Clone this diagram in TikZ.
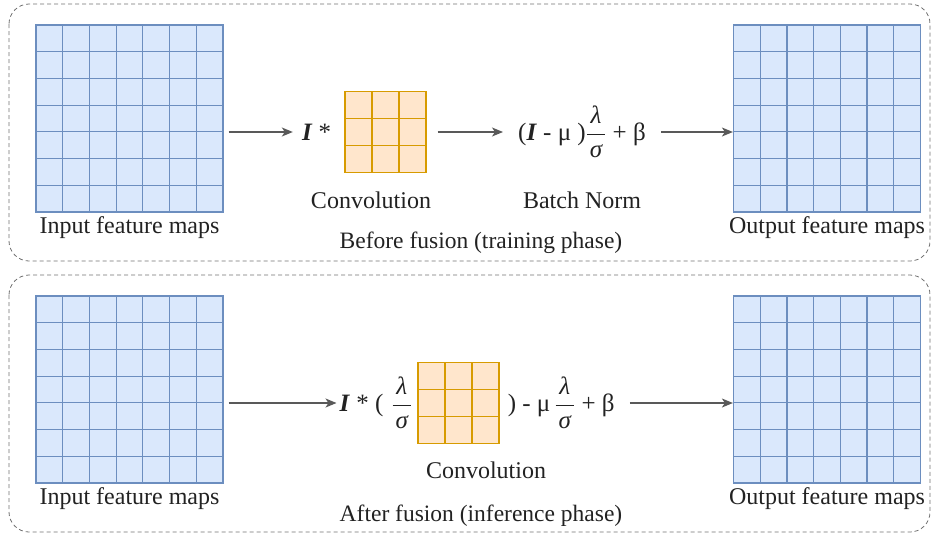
\documentclass[tikz,border=0pt]{standalone}
\usepackage{fontspec}
\setmainfont{Liberation Serif}
\usetikzlibrary{arrows.meta, positioning}

\definecolor{mapfill}{HTML}{DAE8FC}
\definecolor{mapline}{HTML}{6C8EBF}
\definecolor{kernfill}{HTML}{FFE6CC}
\definecolor{kernline}{HTML}{D79B00}
\definecolor{flowgray}{HTML}{595959}
\definecolor{inkgray}{HTML}{222222}
\definecolor{panelgray}{HTML}{707070}

\newcommand{\lamsig}{\ensuremath{\displaystyle\frac{\mbox{\hspace{3pt}\itshape λ\hspace{3pt}}}{\mbox{\hspace{3pt}\itshape σ\hspace{3pt}}}}}
\newcommand{\bI}{\textbf{\textit{I}}}

\tikzset{
  fmap/.style={draw=mapline, fill=mapfill, line width=1.2pt, inner sep=0pt,
    minimum width=187pt, minimum height=187pt,
    path picture={\foreach \k in {1,...,6}{
      \draw[mapline, line width=1.2pt] ([xshift=\k*26.714pt]path picture bounding box.north west) -- ([xshift=\k*26.714pt]path picture bounding box.south west);
      \draw[mapline, line width=1.2pt] ([yshift=-\k*26.714pt]path picture bounding box.north west) -- ([yshift=-\k*26.714pt]path picture bounding box.north east);}}},
  kern/.style={draw=kernline, fill=kernfill, line width=1.2pt, inner sep=0pt,
    minimum width=81pt, minimum height=81pt,
    path picture={\foreach \k in {1,2}{
      \draw[kernline, line width=1.2pt] ([xshift=\k*27pt]path picture bounding box.north west) -- ([xshift=\k*27pt]path picture bounding box.south west);
      \draw[kernline, line width=1.2pt] ([yshift=-\k*27pt]path picture bounding box.north west) -- ([yshift=-\k*27pt]path picture bounding box.north east);}}},
  lbl/.style={text=inkgray, inner sep=0pt, font=\fontsize{24}{28}\selectfont},
  eqn/.style={text=inkgray, inner sep=0pt, font=\fontsize{25}{30}\selectfont},
  phasecap/.style={text=inkgray, inner sep=0pt, font=\fontsize{23.5}{28}\selectfont},
  flow/.style={draw=flowgray, line width=1.3pt, -{Stealth[length=11pt, width=9pt, inset=3pt]}},
  panel/.style={draw=panelgray, line width=0.8pt, dash pattern=on 4pt off 3pt, rounded corners=20pt}
}

\begin{document}
\begin{tikzpicture}[x=1pt, y=-1pt]
\useasboundingbox (0,0) rectangle (931,536);

% panels
\draw[panel] (9,4) rectangle (930,261);
\draw[panel] (9,275) rectangle (930,532);

% before fusion
\node[fmap] (inTop) at (129.5,118.5) {};
\node[fmap] (outTop) at (827,118.5) {};
\node[lbl, below=4pt of inTop] (inTopLbl) {Input feature maps};
\node[lbl, below=4pt of outTop] (outTopLbl) {Output feature maps};
\node[kern] (kernTop) at (385.5,132) {};
\node[eqn, left=13pt of kernTop] (starTop) {\bI{} *};
\node[lbl] (convTop) at (371,200) {Convolution};
\node[eqn] (bnTop) at (582,132) {(\bI{} - μ )\lamsig{} + β};
\node[lbl] (bnLbl) at (bnTop |- convTop) {Batch Norm};
\node[phasecap] (capTop) at (481,243) {Before fusion (training phase)};

\draw[flow, shorten <=5pt, shorten >=9pt] (inTop.east |- starTop) -- (starTop);
\draw[flow, shorten <=11pt, shorten >=15pt] (kernTop) -- (bnTop);
\draw[flow, shorten <=15pt] (bnTop) -- (outTop.west |- bnTop);

% after fusion
\node[fmap] (inBot) at (129.5,389.5) {};
\node[fmap] (outBot) at (827,389.5) {};
\node[lbl, below=4pt of inBot] (inBotLbl) {Input feature maps};
\node[lbl, below=4pt of outBot] (outBotLbl) {Output feature maps};
\node[kern] (kernBot) at (458.5,403) {};
\node[eqn, left=5pt of kernBot] (preBot) {\bI{} * (\hspace{8pt}\lamsig};
\node[eqn, right=8pt of kernBot] (postBot) {) - μ\,\lamsig{} + β};
\node[lbl] (convBot) at (486,470) {Convolution};
\node[phasecap] (capBot) at (481,516) {After fusion (inference phase)};

\draw[flow, shorten <=5pt, shorten >=3pt] (inBot.east |- kernBot) -- (preBot.west |- kernBot);
\draw[flow, shorten <=15pt] (postBot.east |- kernBot) -- (outBot.west |- kernBot);
\end{tikzpicture}
\end{document}
